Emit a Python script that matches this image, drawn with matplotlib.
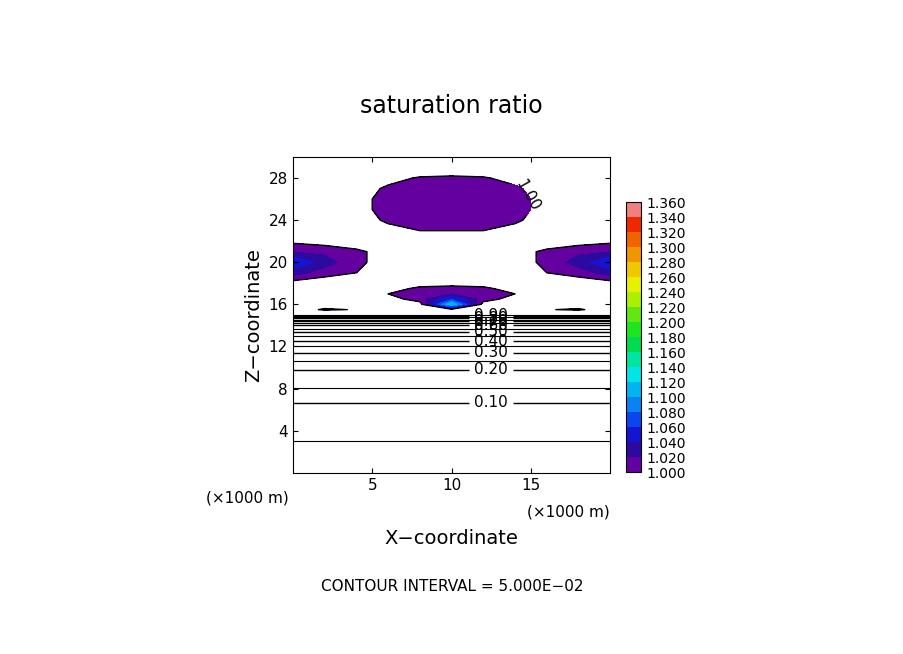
import numpy as np
import matplotlib.pyplot as plt
from matplotlib.colors import ListedColormap, BoundaryNorm

# x positions (km) of the grid columns
x_km = [0, 2, 4, 6, 8, 10, 12, 14, 16, 18, 20]

# lower layer: horizontally uniform profile (height, value)
z_low = [0, 3.07, 6.65, 8.1, 9.8, 10.6, 11.4, 12.0, 12.5, 13.0, 13.4,
         13.7, 14.0, 14.2, 14.4, 14.55, 14.7, 14.8, 14.9, 15.0]
s_low = [0.0, 0.05, 0.10, 0.15, 0.20, 0.25, 0.30, 0.35, 0.40, 0.45, 0.50,
         0.55, 0.60, 0.65, 0.70, 0.75, 0.80, 0.85, 0.90, 0.95]

# upper layer rows (height, values across x_km)
z_up = [15.5, 16, 16.5, 17, 17.5, 18, 19, 20, 21, 22, 23, 24, 25, 26, 27, 28, 29, 30]
s_up = [
    [.98, 1.005, .998, .98, .98, .99, .98, .98, .998, 1.005, .98],
    [.97, .98, .98, .98, .99, 1.12, .99, .98, .98, .98, .97],
    [.97, .98, .98, .99, 1.01, 1.06, 1.01, .99, .98, .98, .97],
    [.97, .98, .98, 1.0, 1.01, 1.02, 1.01, 1.0, .98, .98, .97],
    [.98, .98, .98, .99, 1.005, 1.01, 1.005, .99, .98, .98, .98],
    [.99, .985, .98, .98, .99, .99, .99, .98, .98, .985, .99],
    [1.03, 1.01, 1.0, .98, .98, .98, .98, .98, 1.0, 1.01, 1.03],
    [1.06, 1.03, 1.005, .99, .98, .98, .98, .99, 1.005, 1.03, 1.06],
    [1.02, 1.015, 1.005, .99, .98, .98, .98, .99, 1.005, 1.015, 1.02],
    [.995, .99, .985, .98, .98, .98, .98, .98, .985, .99, .995],
    [.98, .98, .98, .99, 1.0, 1.0, 1.0, .99, .98, .98, .98],
    [.98, .98, .985, 1.005, 1.01, 1.01, 1.01, 1.005, .985, .98, .98],
    [.98, .98, .99, 1.01, 1.02, 1.02, 1.02, 1.01, .99, .98, .98],
    [.98, .98, .99, 1.01, 1.02, 1.02, 1.02, 1.01, .99, .98, .98],
    [.98, .98, .985, 1.005, 1.015, 1.015, 1.015, 1.005, .985, .98, .98],
    [.98, .98, .98, .99, 1.003, 1.005, 1.003, .99, .98, .98, .98],
    [.97, .97, .97, .97, .975, .98, .975, .97, .97, .97, .97],
    [.96, .96, .96, .96, .96, .96, .96, .96, .96, .96, .96],
]

zz = np.array(z_low + z_up)
field = np.vstack([np.repeat(np.array(s_low)[:, None], len(x_km), axis=1), np.array(s_up)])

fill_colors = ['#6400a0', '#2c0aa0', '#1414d2', '#0a46f0', '#0a82f0', '#00b4f0',
               '#00e6e6', '#00e6a0', '#00dc50', '#1ee61e', '#64e614', '#aaf000',
               '#e6f000', '#f0c800', '#f09600', '#f06400', '#f02800', '#f08080']
fill_levels = np.round(np.arange(1.0, 1.3601, 0.02), 3)
line_levels = np.round(np.arange(0.05, 1.001, 0.05), 3)
label_levels = line_levels[1::2]

fig = plt.figure(figsize=(9.04, 6.54), dpi=100)
ax = fig.add_axes([0.324, 0.277, 0.351, 0.483])
cmap = ListedColormap(fill_colors)
norm = BoundaryNorm(fill_levels, cmap.N)
cf = ax.contourf(x_km, zz, field, levels=fill_levels, cmap=cmap, norm=norm)
ax.contour(x_km, zz, field, levels=line_levels[0::2], colors='k', linewidths=0.8)
cs = ax.contour(x_km, zz, field, levels=label_levels, colors='k', linewidths=1.0)
lab_pos = [(12.5, 6.65), (12.5, 9.8), (12.5, 11.4), (12.5, 12.5), (12.5, 13.4),
           (12.5, 14.0), (12.5, 14.4), (12.5, 14.7), (12.5, 14.9), (14.5, 26)]
ax.clabel(cs, manual=lab_pos, fmt='%.2f', fontsize=11, inline=True)
ax.set_xlim(0, 20)
ax.set_ylim(0, 30)
ax.set_xticks([5, 10, 15])
ax.set_yticks([4, 8, 12, 16, 20, 24, 28])
ax.tick_params(direction='in', labelsize=11, top=True, right=True)
ax.set_xlabel('X\u2212coordinate', fontsize=14, labelpad=26)
ax.set_ylabel('Z\u2212coordinate', fontsize=14)
ax.set_title('saturation ratio', fontsize=17, pad=32)
fig.text(0.228, 0.232, '(\u00d71000 m)', fontsize=11)
fig.text(0.583, 0.210, '(\u00d71000 m)', fontsize=11)
fig.text(0.5, 0.097, 'CONTOUR INTERVAL = 5.000E\u221202', fontsize=11, ha='center')

cax = fig.add_axes([0.6925, 0.278, 0.017, 0.413])
cb = fig.colorbar(cf, cax=cax, ticks=fill_levels)
cb.ax.set_yticklabels(['%.3f' % v for v in fill_levels], fontsize=10)
cb.ax.tick_params(length=0)
fig.savefig('out.png')
